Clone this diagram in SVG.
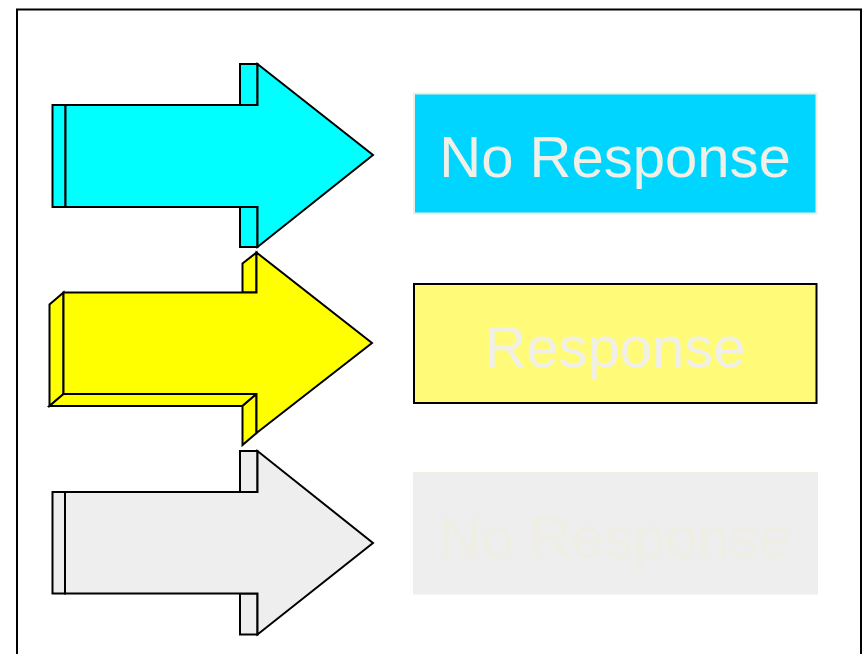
<svg xmlns="http://www.w3.org/2000/svg" width="867" height="654" viewBox="0 0 867 654">
<style>
.ol{stroke:#000;stroke-width:2;stroke-linejoin:miter}
.lbl{font-family:"Liberation Sans",Arial,sans-serif;font-size:58px;text-anchor:middle}
</style>
<rect x="0" y="0" width="867" height="654" fill="#fff"/>
<rect id="frame" x="17" y="9.5" width="844" height="660" fill="#fff" stroke="#000" stroke-width="2"/>
<g id="arrow-cyan" class="ol" fill="#00ffff">
<rect x="52.5" y="105" width="13" height="102"/>
<rect x="240" y="64" width="17.5" height="41"/>
<rect x="240" y="207" width="17.5" height="40"/>
<polygon points="65.5,105 257.5,105 257.5,64 373,155 257.5,247 257.5,207 65.5,207"/>
</g>
<g id="arrow-yellow" class="ol" fill="#ffff00">
<polygon points="63.5,292.5 49.5,304.5 49.5,406 63.5,394"/>
<polygon points="63.5,394 49.5,406 242.5,406 256.5,394"/>
<polygon points="256.5,394 242.5,406 242.5,445 256.5,433"/>
<polygon points="256.5,252.5 242.5,263.5 242.5,292.5 256.5,292.5"/>
<polygon points="63.5,292.5 256.5,292.5 256.5,252.5 372,343 256.5,433 256.5,394 63.5,394"/>
</g>
<g id="arrow-gray" class="ol" fill="#eeeeee">
<rect x="52.5" y="492" width="12.5" height="101.5"/>
<rect x="240" y="451" width="17.5" height="41"/>
<rect x="240" y="593.5" width="17.5" height="41"/>
<polygon points="65,492 257.5,492 257.5,451 373,543 257.5,634.5 257.5,593.5 65,593.5"/>
</g>
<g id="box-noresponse-1">
<rect x="414" y="93.5" width="402.5" height="120" fill="#00d5ff" stroke="#eeeee6" stroke-width="2"/>
<text class="lbl" x="615" y="177" fill="#f0f0e8">No Response</text>
</g>
<g id="box-response">
<rect x="414" y="284" width="402.5" height="119" fill="#fffb78" stroke="#000" stroke-width="2"/>
<text class="lbl" x="615" y="367" fill="#f0f0e8">Response</text>
</g>
<g id="box-noresponse-2">
<rect x="413.5" y="472.5" width="404" height="121.5" fill="#eeeeee" stroke="#eeeee6" stroke-width="1"/>
<text class="lbl" x="615" y="557" fill="#eeeee4">No Response</text>
</g>
<g id="connectors"/>
</svg>
